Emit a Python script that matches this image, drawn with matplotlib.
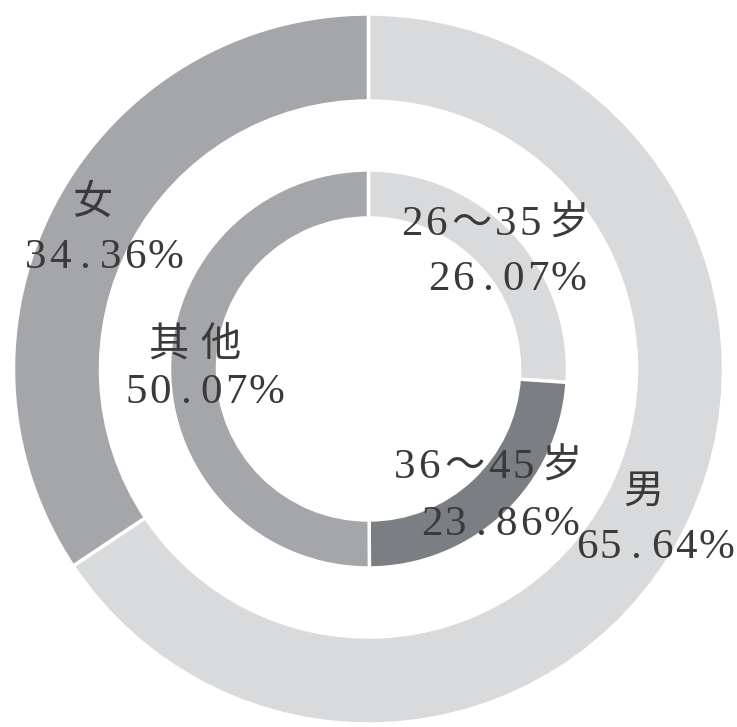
import matplotlib
matplotlib.use("Agg")
import matplotlib.pyplot as plt

# outer ring: gender
gender_labels = ["男", "女"]
gender_values = [65.64, 34.36]
# inner ring: age group
age_labels = ["26～35岁", "36～45岁", "其他"]
age_values = [26.07, 23.86, 50.07]

light = "#d9dadc"
mid = "#a4a6a9"
dark = "#7b7e82"
text_color = "#3a3a3a"

W, H = 737, 727
cx, cy = 368.5, H - 369

fig = plt.figure(figsize=(W / 100, H / 100), dpi=100)
ax = fig.add_axes([0, 0, 1, 1])
ax.set_xlim(0, W)
ax.set_ylim(0, H)
ax.set_aspect("equal")
ax.axis("off")

wedge_kw = dict(edgecolor="white", linewidth=2.5)

ax.pie(gender_values, colors=[light, mid], startangle=90, counterclock=False,
       radius=355, center=(cx, cy),
       wedgeprops=dict(width=87, **wedge_kw))
ax.pie(age_values, colors=[light, dark, mid], startangle=90, counterclock=False,
       radius=199, center=(cx, cy),
       wedgeprops=dict(width=48, **wedge_kw))
ax.set_xlim(0, W)
ax.set_ylim(0, H)


def char_width(c):
    if c.isdigit():
        return 24
    if c == ".":
        return 27
    if c == "%":
        return 38
    if c == "～":
        return 46
    return 52


def spaced_text(x, y_top, s):
    # draws the label one glyph at a time, the source uses wide letter spacing
    widths = [char_width(c) for c in s]
    left = x - sum(widths) / 2
    for c, w in zip(s, widths):
        if c.isascii():
            kw = dict(fontsize=31, family="Liberation Serif")
        else:
            kw = dict(fontsize=29, family="Noto Sans CJK SC", fontweight="light")
        ax.text(left + w / 2, H - y_top, c, ha="center", va="baseline",
                color=text_color, **kw)
        left += w


# label text, pixel centre x and baseline y (from top)
label_pos = {
    "女": ((92, 214), (104, 268)),
    "其他": ((194, 356), (205, 403)),
    "26～35岁": ((497, 235), (507, 290)),
    "36～45岁": ((490, 478), (500, 535)),
    "男": ((643, 503), (655, 558)),
}
all_labels = gender_labels + age_labels
all_values = gender_values + age_values
for name, val in zip(all_labels, all_values):
    (x1, y1), (x2, y2) = label_pos[name]
    spaced_text(x1, y1, name)
    spaced_text(x2, y2, f"{val:.2f}%")

fig.savefig("out.png", dpi=100)
